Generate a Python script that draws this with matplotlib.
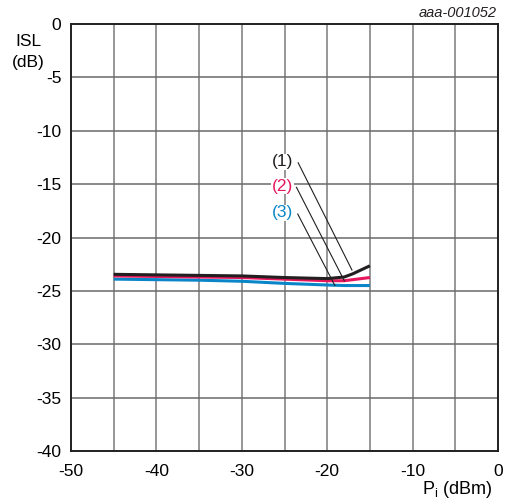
import matplotlib.pyplot as plt

plt.rcParams['font.family'] = ['Liberation Sans', 'DejaVu Sans']

pi_dbm = [-45, -40, -35, -30, -25, -20, -18, -17, -15]
isl_1 = [-23.45, -23.5, -23.55, -23.6, -23.75, -23.85, -23.7, -23.4, -22.65]
isl_2 = [-23.6, -23.65, -23.7, -23.75, -23.9, -24.05, -24.05, -23.95, -23.75]
isl_3 = [-23.9, -23.95, -24.0, -24.1, -24.3, -24.45, -24.5, -24.5, -24.5]

labels = ["(1)", "(2)", "(3)"]
colors = ["#231f20", "#e6175c", "#0a86c8"]
label_xy = [(-25.2, -12.9), (-25.2, -15.2), (-25.2, -17.7)]
line_start = [(-23.4, -13.0), (-23.6, -15.3), (-23.45, -17.8)]
line_end = [(-17.1, -23.05), (-18.0, -24.05), (-19.1, -24.5)]

xticks = [-50, -40, -30, -20, -10, 0]
yticks = [0, -5, -10, -15, -20, -25, -30, -35, -40]

fig = plt.figure(figsize=(5.06, 5.04), dpi=100)
ax = fig.add_axes([71 / 506, 53 / 504, 427 / 506, 427 / 504])

for x in range(-45, 0, 5):
    ax.axvline(x, color="#7a7a7a", lw=1.1, zorder=1)
for y in range(-35, 0, 5):
    ax.axhline(y, color="#6a6a6a", lw=1.1, zorder=1)

for ys, c in zip([isl_3, isl_2, isl_1], colors[::-1]):
    ax.plot(pi_dbm, ys, color=c, lw=2.2, zorder=3, solid_capstyle="butt")

for lab, c, (tx, ty), (x0, y0), (x1, y1) in zip(labels, colors, label_xy, line_start, line_end):
    ax.text(tx, ty, lab, color=c, fontsize=12.5, ha="center", va="center", zorder=4,
            bbox=dict(facecolor="white", edgecolor="none", pad=0.5))
    ax.plot([x0, x1], [y0, y1], color="#231f20", lw=0.8, zorder=5)

ax.set_xlim(-50, 0)
ax.set_ylim(-40, 0)
ax.set_xticks(xticks)
ax.set_xticklabels([str(v) for v in xticks])
ax.set_yticks(yticks)
ax.set_yticklabels([str(v) for v in yticks])
ax.tick_params(length=0, labelsize=12.5, pad=7)
ax.tick_params(axis="x", pad=9)
for s in ax.spines.values():
    s.set_linewidth(1.4)
    s.set_color("#231f20")

fig.text(28 / 506, 1 - 41 / 504, "ISL", fontsize=12.5, ha="center", va="center")
fig.text(28 / 506, 1 - 63 / 504, "(dB)", fontsize=12.5, ha="center", va="center")
fig.text(497 / 506, 1 - 13 / 504, "aaa-001052", fontsize=10.5, style="italic",
         ha="right", va="center", color="#231f20")
fig.text(492 / 506, 1 - 490 / 504, r"P$_\mathregular{i}$ (dBm)", fontsize=13,
         ha="right", va="center")

fig.savefig("out.png", dpi=100)
